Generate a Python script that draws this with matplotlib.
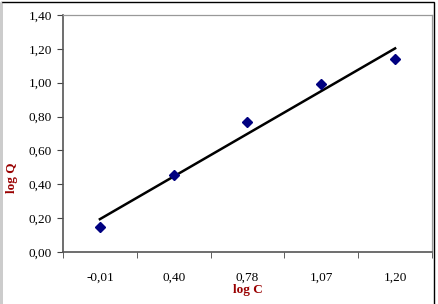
import matplotlib
import matplotlib.pyplot as plt
import numpy as np

matplotlib.use("Agg")

categories = ["-0,01", "0,40", "0,78", "1,07", "1,20"]
log_q = [0.146, 0.452, 0.766, 0.99, 1.138]
y_ticks = [0.0, 0.2, 0.4, 0.6, 0.8, 1.0, 1.2, 1.4]

plt.rcParams["font.family"] = ["Liberation Serif", "DejaVu Serif"]

W, H = 438, 304
fig = plt.figure(figsize=(W / 100, H / 100), dpi=100)

# plot area in pixels: x 63..432, y 15..252
ax = fig.add_axes([63 / W, 1 - 252 / H, (432 - 63) / W, (252 - 15) / H])

idx = np.arange(1, len(categories) + 1)
ax.plot(idx, log_q, linestyle="none", marker="D", markersize=5,
        color="#000080", zorder=3)

# linear trendline over category index (like excel)
k, b = np.polyfit(idx, log_q, 1)
ax.plot([idx[0], idx[-1]], [k * idx[0] + b, k * idx[-1] + b],
        color="black", lw=1.8, zorder=2)

ax.set_xlim(0.5, len(categories) + 0.5)
ax.set_ylim(0, 1.4)
ax.set_yticks(y_ticks)
ax.set_yticklabels([f"{v:.2f}".replace(".", ",") for v in y_ticks], fontsize=9.5)

# category labels in the middle, tick marks between categories
ax.set_xticks(idx)
ax.set_xticklabels(categories, fontsize=9.5)
ax.tick_params(axis="x", which="major", length=0, pad=14)
ax.set_xticks(np.arange(0.5, len(categories) + 1, 1.0), minor=True)
ax.tick_params(axis="x", which="minor", length=4, direction="out", color="#444444")
ax.tick_params(axis="y", length=4, color="#444444", pad=4)

for side in ["left", "bottom"]:
    ax.spines[side].set_color("#555555")
    ax.spines[side].set_linewidth(1.2)
for side in ["top", "right"]:
    ax.spines[side].set_color("#999999")
    ax.spines[side].set_linewidth(0.9)

fig.text(12 / W, 1 - 178 / H, "log Q", rotation=90, ha="center", va="center",
         fontsize=9.5, fontweight="bold", color="#990000")
fig.text(248 / W, 1 - 290 / H, "log C", ha="center", va="center",
         fontsize=9.5, fontweight="bold", color="#990000")

# outer chart border
border = plt.Rectangle((1 / W, -0.05), 432.5 / W, 1.05 - 2 / H,
                       transform=fig.transFigure, fill=False,
                       edgecolor="black", lw=1.0)
fig.patches.append(border)
left_edge = plt.Line2D([1 / W, 1 / W], [0, 1 - 2 / H], transform=fig.transFigure,
                       color="#cccccc", lw=1.0)
fig.lines.append(left_edge)

fig.savefig("out.png", dpi=100)
